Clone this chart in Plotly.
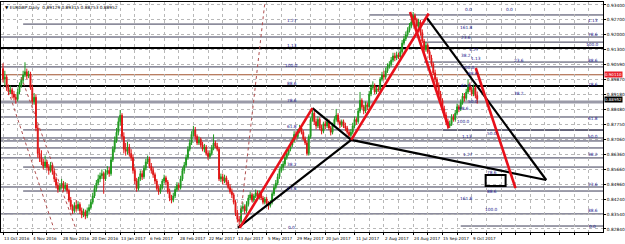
import plotly.graph_objects as go

# ---------------- data ----------------
opens = [
0.9040,0.8990,0.9000,0.8950,0.8930,0.8940,0.8920,0.8905,0.8895,0.8930,
0.8960,0.8985,0.9010,0.9025,0.9005,0.9015,0.8950,0.8885,0.8905,0.8760,
0.8640,0.8620,0.8600,0.8580,0.8600,0.8575,0.8560,0.8585,0.8555,0.8520,
0.8490,0.8470,0.8485,0.8500,0.8475,0.8490,0.8465,0.8420,0.8390,0.8370,
0.8395,0.8380,0.8400,0.8370,0.8350,0.8365,0.8345,0.8370,0.8385,0.8410,
0.8440,0.8475,0.8500,0.8520,0.8535,0.8545,0.8520,0.8550,0.8560,0.8545,
0.8610,0.8660,0.8700,0.8740,0.8790,0.8820,0.8720,0.8660,0.8650,0.8670,
0.8640,0.8620,0.8560,0.8510,0.8475,0.8520,0.8545,0.8530,0.8570,0.8600,
0.8615,0.8580,0.8560,0.8540,0.8510,0.8475,0.8460,0.8480,0.8510,0.8525,
0.8505,0.8460,0.8430,0.8420,0.8440,0.8470,0.8490,0.8480,0.8520,0.8560,
0.8585,0.8620,0.8660,0.8690,0.8730,0.8750,0.8720,0.8690,0.8705,0.8680,
0.8660,0.8670,0.8640,0.8625,0.8640,0.8665,0.8690,0.8675,0.8660,0.8520,
0.8530,0.8510,0.8525,0.8505,0.8480,0.8460,0.8445,0.8410,0.8360,0.8330,
0.8320,0.8380,0.8390,0.8370,0.8400,0.8430,0.8445,0.8420,0.8440,0.8455,
0.8435,0.8450,0.8430,0.8410,0.8425,0.8405,0.8395,0.8410,0.8450,0.8480,
0.8500,0.8530,0.8560,0.8575,0.8590,0.8620,0.8640,0.8660,0.8680,0.8700,
0.8730,0.8720,0.8745,0.8760,0.8740,0.8710,0.8690,0.8640,0.8720,0.8800,
0.8830,0.8790,0.8770,0.8800,0.8760,0.8745,0.8780,0.8770,0.8790,0.8760,
0.8740,0.8775,0.8800,0.8820,0.8790,0.8775,0.8790,0.8770,0.8760,0.8740,
0.8725,0.8740,0.8770,0.8800,0.8790,0.8840,0.8890,0.8860,0.8840,0.8870,
0.8860,0.8920,0.8950,0.8960,0.8930,0.8945,0.8940,0.8990,0.9010,0.9000,
0.9030,0.9050,0.9060,0.9080,0.9100,0.9090,0.9105,0.9095,0.9120,0.9160,
0.9180,0.9200,0.9220,0.9240,0.9260,0.9290,0.9270,0.9240,0.9260,0.9210,
0.9170,0.9130,0.9150,0.9120,0.9090,0.9060,0.9020,0.8990,0.8960,0.8920,
0.8890,0.8850,0.8820,0.8790,0.8770,0.8780,0.8810,0.8800,0.8830,0.8860,
0.8850,0.8880,0.8910,0.8900,0.8930,0.8960,0.8940,0.8920,0.8950,0.8913,
]
highs = [
0.9065,0.9030,0.9010,0.8965,0.8960,0.8950,0.8935,0.8920,0.8945,0.8975,
0.9000,0.9030,0.9070,0.9040,0.9030,0.9025,0.8965,0.8925,0.8920,0.8775,
0.8665,0.8655,0.8615,0.8630,0.8610,0.8590,0.8600,0.8595,0.8565,0.8530,
0.8505,0.8500,0.8520,0.8510,0.8505,0.8500,0.8475,0.8435,0.8400,0.8410,
0.8420,0.8415,0.8410,0.8385,0.8380,0.8375,0.8385,0.8400,0.8425,0.8455,
0.8490,0.8515,0.8540,0.8550,0.8565,0.8555,0.8565,0.8580,0.8575,0.8625,
0.8675,0.8720,0.8760,0.8810,0.8845,0.8830,0.8740,0.8690,0.8695,0.8685,
0.8660,0.8635,0.8575,0.8525,0.8530,0.8560,0.8560,0.8585,0.8615,0.8630,
0.8625,0.8595,0.8575,0.8550,0.8520,0.8490,0.8495,0.8520,0.8540,0.8535,
0.8515,0.8475,0.8445,0.8455,0.8485,0.8505,0.8500,0.8535,0.8575,0.8600,
0.8635,0.8675,0.8705,0.8745,0.8770,0.8765,0.8730,0.8720,0.8715,0.8695,
0.8685,0.8680,0.8655,0.8655,0.8680,0.8730,0.8700,0.8690,0.8670,0.8545,
0.8545,0.8540,0.8535,0.8515,0.8495,0.8475,0.8455,0.8420,0.8375,0.8345,
0.8395,0.8410,0.8400,0.8415,0.8445,0.8460,0.8455,0.8450,0.8470,0.8465,
0.8465,0.8460,0.8440,0.8435,0.8435,0.8415,0.8420,0.8460,0.8495,0.8515,
0.8545,0.8570,0.8590,0.8605,0.8635,0.8655,0.8675,0.8695,0.8715,0.8745,
0.8745,0.8755,0.8775,0.8770,0.8750,0.8720,0.8700,0.8730,0.8810,0.8854,
0.8840,0.8805,0.8815,0.8810,0.8775,0.8790,0.8795,0.8805,0.8800,0.8770,
0.8785,0.8815,0.8850,0.8830,0.8800,0.8800,0.8800,0.8785,0.8770,0.8750,
0.8755,0.8785,0.8815,0.8810,0.8855,0.8930,0.8900,0.8870,0.8885,0.8880,
0.8935,0.8965,0.8980,0.8970,0.8955,0.8960,0.9000,0.9025,0.9030,0.9045,
0.9065,0.9075,0.9095,0.9115,0.9115,0.9120,0.9115,0.9135,0.9175,0.9195,
0.9215,0.9235,0.9255,0.9275,0.9307,0.9300,0.9280,0.9275,0.9270,0.9225,
0.9180,0.9165,0.9160,0.9130,0.9105,0.9070,0.9035,0.9000,0.8975,0.8935,
0.8900,0.8865,0.8835,0.8805,0.8795,0.8825,0.8825,0.8845,0.8875,0.8870,
0.8895,0.8925,0.8925,0.8945,0.8990,0.8975,0.8955,0.8965,0.8960,0.8932,
]
lows = [
0.8975,0.8960,0.8935,0.8915,0.8920,0.8900,0.8890,0.8875,0.8885,0.8920,
0.8950,0.8970,0.9000,0.8990,0.8995,0.8940,0.8870,0.8870,0.8745,0.8620,
0.8600,0.8585,0.8565,0.8570,0.8560,0.8540,0.8550,0.8540,0.8505,0.8475,
0.8455,0.8460,0.8475,0.8460,0.8465,0.8450,0.8410,0.8375,0.8355,0.8360,
0.8365,0.8370,0.8355,0.8335,0.8340,0.8330,0.8335,0.8360,0.8375,0.8400,
0.8430,0.8460,0.8490,0.8505,0.8520,0.8450,0.8510,0.8540,0.8530,0.8535,
0.8600,0.8645,0.8690,0.8725,0.8770,0.8705,0.8640,0.8630,0.8635,0.8625,
0.8605,0.8545,0.8495,0.8460,0.8465,0.8510,0.8515,0.8520,0.8560,0.8590,
0.8570,0.8545,0.8525,0.8495,0.8465,0.8445,0.8450,0.8470,0.8500,0.8490,
0.8450,0.8415,0.8405,0.8410,0.8430,0.8460,0.8465,0.8470,0.8510,0.8545,
0.8575,0.8610,0.8650,0.8680,0.8720,0.8705,0.8680,0.8680,0.8670,0.8650,
0.8645,0.8630,0.8610,0.8615,0.8630,0.8655,0.8665,0.8650,0.8510,0.8505,
0.8495,0.8500,0.8490,0.8470,0.8450,0.8430,0.8400,0.8345,0.8315,0.8289,
0.8310,0.8365,0.8355,0.8360,0.8390,0.8420,0.8410,0.8410,0.8430,0.8425,
0.8425,0.8420,0.8400,0.8400,0.8395,0.8375,0.8385,0.8400,0.8440,0.8470,
0.8490,0.8520,0.8550,0.8560,0.8580,0.8610,0.8630,0.8650,0.8670,0.8690,
0.8705,0.8710,0.8735,0.8730,0.8700,0.8680,0.8630,0.8630,0.8710,0.8790,
0.8775,0.8755,0.8760,0.8750,0.8730,0.8735,0.8755,0.8760,0.8750,0.8725,
0.8730,0.8765,0.8790,0.8780,0.8760,0.8765,0.8760,0.8745,0.8730,0.8710,
0.8715,0.8730,0.8760,0.8775,0.8780,0.8830,0.8850,0.8825,0.8830,0.8845,
0.8850,0.8910,0.8940,0.8920,0.8920,0.8930,0.8930,0.8980,0.8985,0.8990,
0.9020,0.9040,0.9050,0.9070,0.9075,0.9080,0.9085,0.9085,0.9110,0.9150,
0.9170,0.9190,0.9210,0.9230,0.9250,0.9255,0.9225,0.9230,0.9195,0.9160,
0.9115,0.9120,0.9110,0.9080,0.9050,0.9010,0.8975,0.8945,0.8910,0.8875,
0.8840,0.8810,0.8775,0.8755,0.8760,0.8770,0.8790,0.8790,0.8820,0.8835,
0.8840,0.8870,0.8885,0.8890,0.8920,0.8930,0.8910,0.8910,0.8900,0.8875,
]
closes = [
0.8990,0.9000,0.8950,0.8930,0.8940,0.8920,0.8905,0.8895,0.8930,0.8960,
0.8985,0.9010,0.9025,0.9005,0.9015,0.8950,0.8885,0.8905,0.8760,0.8640,
0.8620,0.8600,0.8580,0.8600,0.8575,0.8560,0.8585,0.8555,0.8520,0.8490,
0.8470,0.8485,0.8500,0.8475,0.8490,0.8465,0.8420,0.8390,0.8370,0.8395,
0.8380,0.8400,0.8370,0.8350,0.8365,0.8345,0.8370,0.8385,0.8410,0.8440,
0.8475,0.8500,0.8520,0.8535,0.8545,0.8520,0.8550,0.8560,0.8545,0.8610,
0.8660,0.8700,0.8740,0.8790,0.8820,0.8720,0.8660,0.8650,0.8670,0.8640,
0.8620,0.8560,0.8510,0.8475,0.8520,0.8545,0.8530,0.8570,0.8600,0.8615,
0.8580,0.8560,0.8540,0.8510,0.8475,0.8460,0.8480,0.8510,0.8525,0.8505,
0.8460,0.8430,0.8420,0.8440,0.8470,0.8490,0.8480,0.8520,0.8560,0.8585,
0.8620,0.8660,0.8690,0.8730,0.8750,0.8720,0.8690,0.8705,0.8680,0.8660,
0.8670,0.8640,0.8625,0.8640,0.8665,0.8690,0.8675,0.8660,0.8520,0.8530,
0.8510,0.8525,0.8505,0.8480,0.8460,0.8445,0.8410,0.8360,0.8330,0.8320,
0.8380,0.8390,0.8370,0.8400,0.8430,0.8445,0.8420,0.8440,0.8455,0.8435,
0.8450,0.8430,0.8410,0.8425,0.8405,0.8395,0.8410,0.8450,0.8480,0.8500,
0.8530,0.8560,0.8575,0.8590,0.8620,0.8640,0.8660,0.8680,0.8700,0.8730,
0.8720,0.8745,0.8760,0.8740,0.8710,0.8690,0.8640,0.8720,0.8800,0.8830,
0.8790,0.8770,0.8800,0.8760,0.8745,0.8780,0.8770,0.8790,0.8760,0.8740,
0.8775,0.8800,0.8820,0.8790,0.8775,0.8790,0.8770,0.8760,0.8740,0.8725,
0.8740,0.8770,0.8800,0.8790,0.8840,0.8890,0.8860,0.8840,0.8870,0.8860,
0.8920,0.8950,0.8960,0.8930,0.8945,0.8940,0.8990,0.9010,0.9000,0.9030,
0.9050,0.9060,0.9080,0.9100,0.9090,0.9105,0.9095,0.9120,0.9160,0.9180,
0.9200,0.9220,0.9240,0.9260,0.9290,0.9270,0.9240,0.9260,0.9210,0.9170,
0.9130,0.9150,0.9120,0.9090,0.9060,0.9020,0.8990,0.8960,0.8920,0.8890,
0.8850,0.8820,0.8790,0.8770,0.8780,0.8810,0.8800,0.8830,0.8860,0.8850,
0.8880,0.8910,0.8900,0.8930,0.8960,0.8940,0.8920,0.8950,0.8913,0.8895,
]

date_labels = ["13 Oct 2016", "4 Nov 2016", "28 Nov 2016", "20 Dec 2016", "13 Jan 2017",
               "6 Feb 2017", "28 Feb 2017", "22 Mar 2017", "13 Apr 2017", "5 May 2017",
               "29 May 2017", "20 Jun 2017", "11 Jul 2017", "2 Aug 2017", "24 Aug 2017",
               "15 Sep 2017", "9 Oct 2017"]
date_label_bars = [i * 16 for i in range(len(date_labels))]

price_ticks = [0.93400, 0.92700, 0.92000, 0.91300, 0.90590, 0.89870, 0.89180, 0.88480,
               0.87750, 0.87060, 0.86360, 0.85660, 0.84960, 0.84240, 0.83540, 0.82840]

title_text = "\u25bc EURGBP,Daily  0.89129 0.89315 0.88753 0.88952"
bid_price = 0.88952
alert_price = 0.90110

# horizontal levels (price) - full width
levels_dark = [0.9189, 0.9048, 0.8812, 0.8713, 0.8699, 0.8666, 0.8619, 0.8482, 0.8355]
levels_black = [0.9137, 0.8958]
levels_gray = [0.8883]
levels_brown = [0.9011]
# levels starting later (start bar, price)
partial_start = [11, 11, 11, 11, 200, 230, 230, 240, 250]
partial_level = [0.9250, 0.8751, 0.8576, 0.8463, 0.9293, 0.9071, 0.9165, 0.8750, 0.8298]

# harmonic pattern points (bar, price)
red_a_x = [129.3, 169.0]; red_a_y = [0.8289, 0.8854]
red_b_x = [190.2, 232.5]; red_b_y = [0.8704, 0.9300]
red_c_x = [222.3, 243.5]; red_c_y = [0.9307, 0.8760]
red_d_x = [258.2, 279.9]; red_d_y = [0.9043, 0.8477]
blk_a_x = [128.3, 190.2]; blk_a_y = [0.8289, 0.8704]
blk_b_x = [169.0, 190.2]; blk_b_y = [0.8854, 0.8704]
blk_c_x = [190.2, 296.7]; blk_c_y = [0.8704, 0.8515]
blk_d_x = [231.5, 296.7]; blk_d_y = [0.9279, 0.8515]
box_x = [263.6, 274.5]; box_y = [0.8487, 0.8538]

# dotted fib trend lines
dot1_x = [2.0, 28.0]; dot1_y = [0.8960, 0.8280]
dot2_x = [10.0, 40.0]; dot2_y = [0.9000, 0.8280]
dot3_x = [129.0, 143.0]; dot3_y = [0.8289, 0.9350]

# fib labels: (bar, price, text)
fib_lab_x = [157.6, 157.6, 157.6, 157.6, 157.6, 157.6, 157.6, 157.6, 157.6,
             254.3, 276.6, 253.3, 252.7, 257.0, 252.7, 258.1, 282.0, 254.3, 256.5,
             252.7, 282.0, 256.5, 251.6, 251.6, 267.0, 253.3, 253.8, 267.0, 267.0, 253.3, 267.0,
             322, 322, 322, 322, 322, 322, 322, 322, 322, 322, 322]
fib_lab_y = [0.9265, 0.9151, 0.9057, 0.8968, 0.8892, 0.8765, 0.8586, 0.8477, 0.8293,
             0.9321, 0.9321, 0.9236, 0.9185, 0.9132, 0.9104, 0.9090, 0.9076, 0.9043, 0.9019,
             0.8962, 0.8925, 0.8887, 0.8850, 0.8793, 0.8736, 0.8722, 0.8637, 0.8552, 0.8463, 0.8430, 0.8378,
             0.9265, 0.9203, 0.9156, 0.9076, 0.8967, 0.8807, 0.8722, 0.8633, 0.8492, 0.8369, 0.8298]
fib_lab_t = ["1.27", "1.13", "100.0", "88.6", "78.6", "61.8", "38.2", "23.6", "0.0",
             "0.0", "0.0", "161.8", "23.6", "1.27", "38.2", "1.13", "23.6", "100.0", "88.6",
             "61.8", "38.2", "50.0", "88.6", "100.0", "50.0", "1.13", "1.27", "78.6", "88.6", "161.8", "100.0",
             "1.13", "78.6", "100.0", "88.6", "78.6", "61.8", "50.0", "38.2", "23.6", "88.6", "0.0"]

# ---------------- figure ----------------
X_MIN, X_MAX = -1.09, 327.7
Y_MIN, Y_MAX = 0.82698, 0.93541
FONT = "DejaVu Sans"
LINECOL = "#3a3a55"

bars = list(range(len(closes)))
fig = go.Figure()
fig.add_trace(go.Candlestick(
    x=bars, open=opens, high=highs, low=lows, close=closes,
    increasing=dict(line=dict(color="#1f9a1f", width=1), fillcolor="#1f9a1f"),
    decreasing=dict(line=dict(color="#e01515", width=1), fillcolor="#e01515"),
    whiskerwidth=0, showlegend=False, hoverinfo="skip"))

shapes = []
def hline(x0, y, color, width, dash="solid"):
    shapes.append(dict(type="line", xref="x", yref="y", x0=x0, x1=X_MAX, y0=y, y1=y,
                       line=dict(color=color, width=width, dash=dash), layer="below"))

for v in levels_dark:
    hline(X_MIN, v, LINECOL, 1)
for v in levels_black:
    hline(X_MIN, v, "#000000", 2)
for v in levels_gray:
    hline(X_MIN, v, "#9a9aa8", 3)
for v in levels_brown:
    hline(X_MIN, v, "#a0522d", 1)
for s, v in zip(partial_start, partial_level):
    hline(s, v, LINECOL, 1)

def seg(xs, ys, color, width, dash="solid"):
    fig.add_trace(go.Scatter(x=xs, y=ys, mode="lines", line=dict(color=color, width=width, dash=dash),
                             showlegend=False, hoverinfo="skip"))

seg(dot1_x, dot1_y, "#b05050", 1, "dot")
seg(dot2_x, dot2_y, "#b05050", 1, "dot")
seg(dot3_x, dot3_y, "#b05050", 1, "dot")

for xs, ys in [(blk_a_x, blk_a_y), (blk_b_x, blk_b_y), (blk_c_x, blk_c_y), (blk_d_x, blk_d_y)]:
    seg(xs, ys, "#000000", 2.2)
for xs, ys in [(red_a_x, red_a_y), (red_b_x, red_b_y), (red_c_x, red_c_y), (red_d_x, red_d_y)]:
    seg(xs, ys, "#e8101a", 2.6)

shapes.append(dict(type="rect", xref="x", yref="y", x0=box_x[0], x1=box_x[1], y0=box_y[0], y1=box_y[1],
                   line=dict(color="#000000", width=2), fillcolor="rgba(0,0,0,0)", layer="above"))

annotations = []
for x, y, t in zip(fib_lab_x, fib_lab_y, fib_lab_t):
    annotations.append(dict(x=x, y=y, xref="x", yref="y", text=t, showarrow=False,
                            font=dict(family=FONT, size=4.3, color="#1a1a8c"),
                            xanchor="center", yanchor="middle"))

for b, t in zip(date_label_bars, date_labels):
    annotations.append(dict(x=b, y=0, xref="x", yref="paper", text=t, showarrow=False,
                            font=dict(family=FONT, size=4.1, color="#000000"),
                            xanchor="left", yanchor="top", yshift=-2, xshift=-1))

annotations.append(dict(x=0.004, y=1, xref="paper", yref="paper", text=title_text, showarrow=False,
                        font=dict(family=FONT, size=4.3, color="#000000"),
                        xanchor="left", yanchor="top", yshift=-1))

for price, bg, shift in [(alert_price, "#e8202a", 0.6), (bid_price, "#000000", 0)]:
    annotations.append(dict(x=1, y=price, xref="paper", yref="y", text="%.5f" % price, showarrow=False,
                            font=dict(family=FONT, size=4.0, color="#ffffff"), bgcolor=bg,
                            xanchor="left", yanchor="middle", borderpad=0, xshift=1, yshift=shift))

fig.update_layout(
    width=625, height=244, margin=dict(l=0, r=20, t=2, b=12),
    paper_bgcolor="#ffffff", plot_bgcolor="#ffffff",
    shapes=shapes, annotations=annotations,
    xaxis=dict(range=[X_MIN, X_MAX], tickvals=list(range(0, 330, 8)), showticklabels=False,
               showgrid=True, gridcolor="#b8b8b8", griddash="dot", gridwidth=1,
               zeroline=False, showline=True, linecolor="#000000", mirror=True,
               ticks="outside", ticklen=2, tickcolor="#000000", rangeslider=dict(visible=False), fixedrange=True),
    yaxis=dict(range=[Y_MIN, Y_MAX], side="right", tickvals=price_ticks,
               ticktext=["%.5f" % v for v in price_ticks],
               tickfont=dict(family=FONT, size=4.3, color="#000000"),
               showgrid=True, gridcolor="#b8b8b8", griddash="dot", gridwidth=1,
               zeroline=False, showline=True, linecolor="#000000", mirror=True,
               ticks="outside", ticklen=2, tickcolor="#000000", fixedrange=True),
)

fig.write_html("out.html")
